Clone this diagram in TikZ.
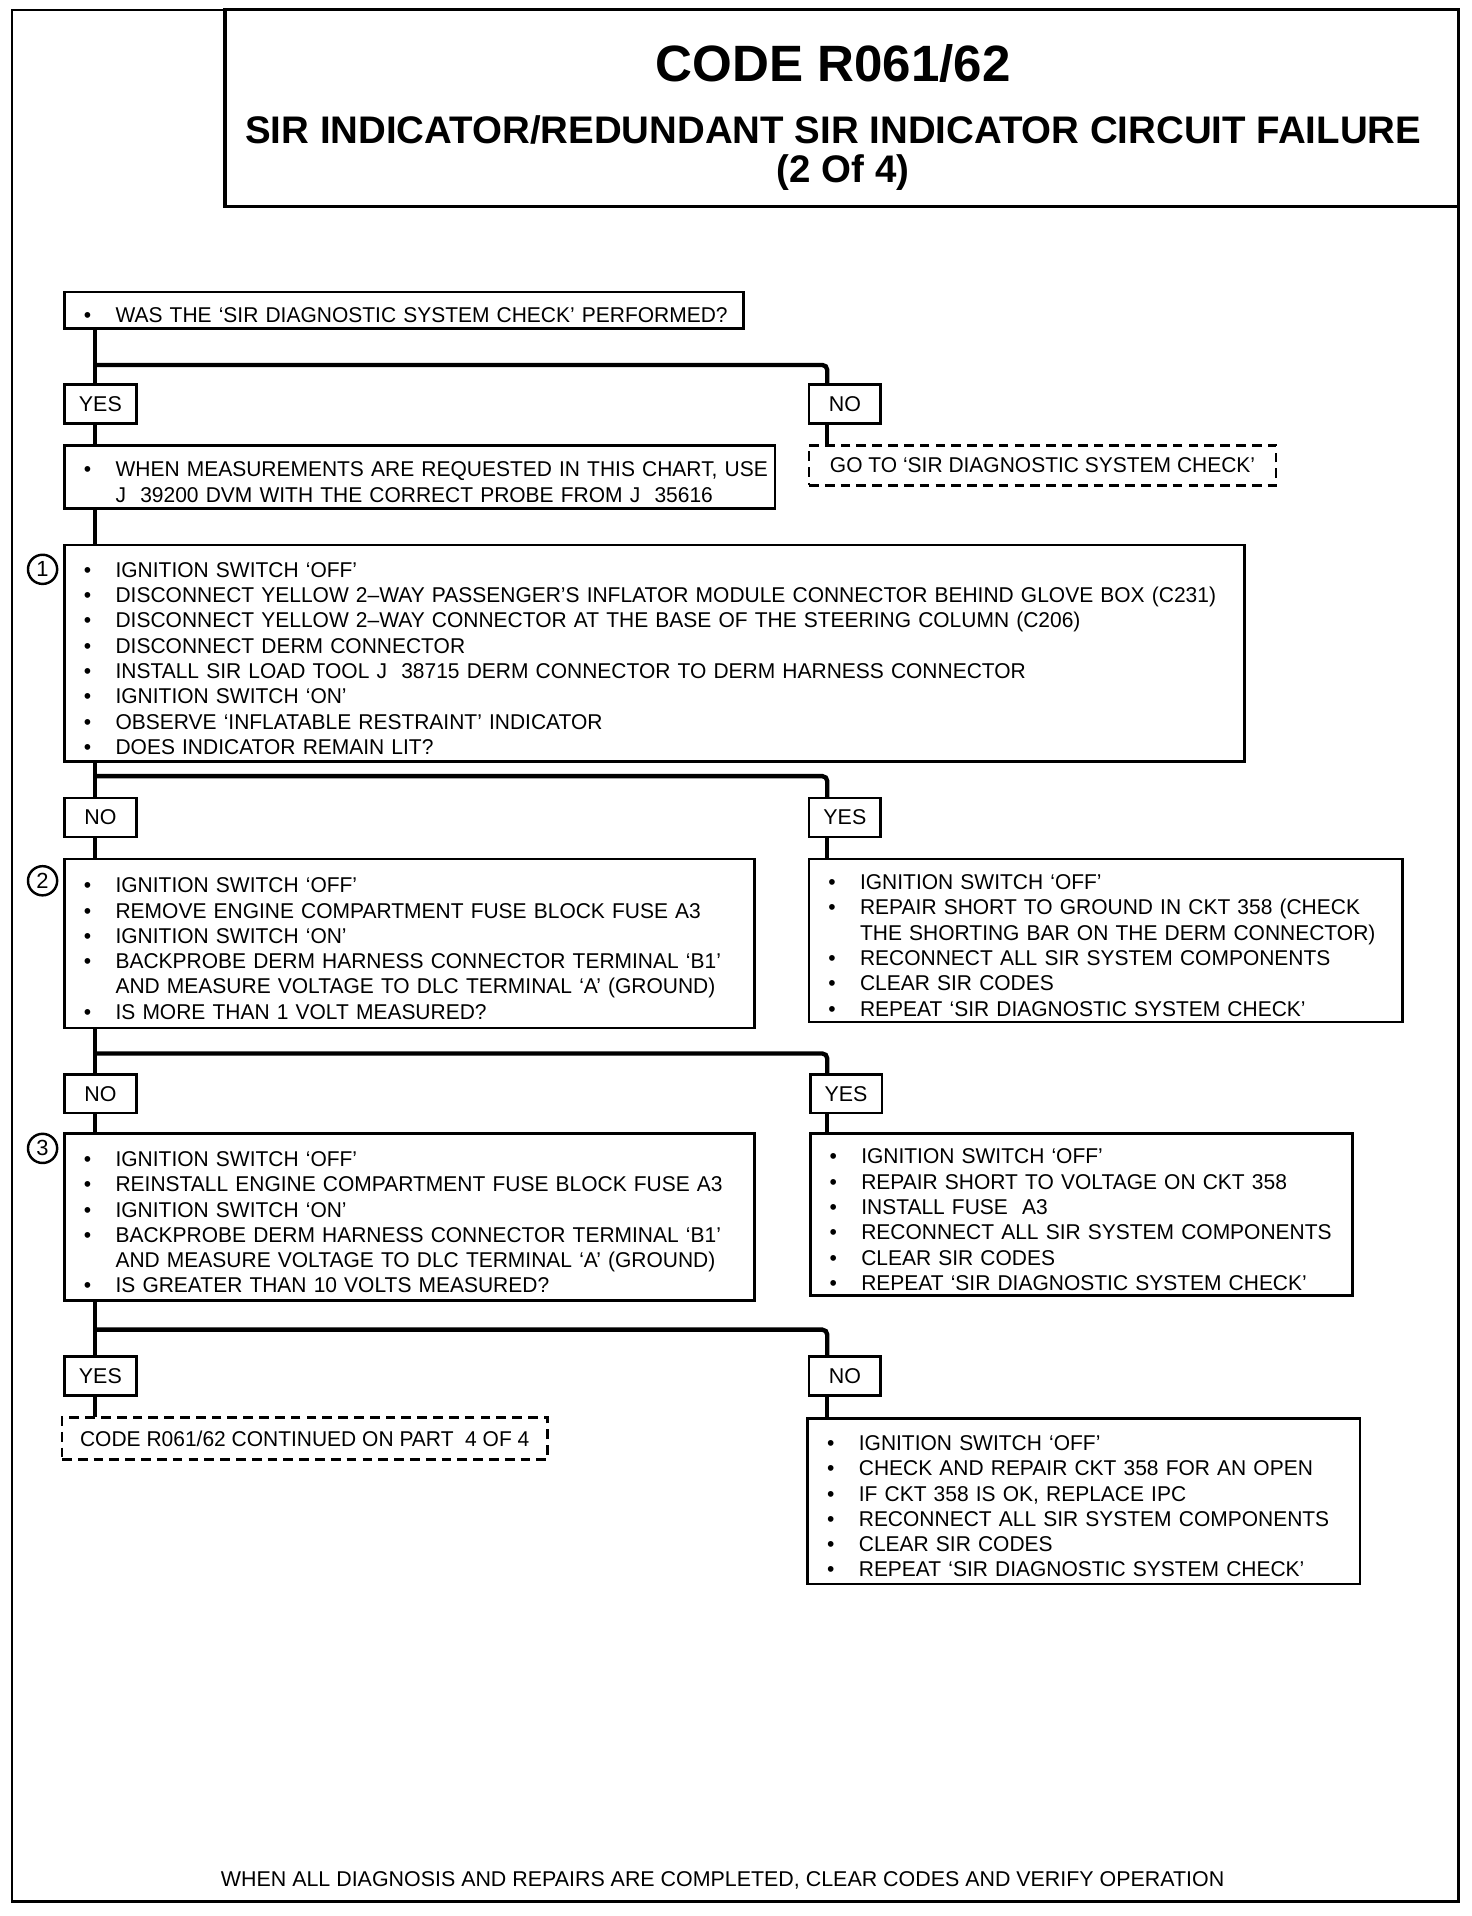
\documentclass[tikz,border=0pt]{standalone}
\usepackage{fontspec}
\setmainfont{Liberation Sans}
\newfontfamily\boxfont{Liberation Sans}[Ligatures=TeX, FakeStretch=0.98]
\usetikzlibrary{positioning}
\hyphenpenalty=10000
\exhyphenpenalty=10000
\newcommand{\bul}{\par\noindent\hangindent=17pt\hangafter=1\makebox[17pt][l]{\hspace{4pt}\textbullet}}
\begin{document}
\begin{tikzpicture}[x=0.5pt, y=-0.5pt,
        stepbox/.style={draw, line width=1.1pt, outer sep=0pt, inner xsep=4pt, inner ysep=0pt, align=left, font=\boxfont\fontsize{8.8}{10.4}\selectfont},
        dashbox/.style={draw, line width=1.1pt, outer sep=0pt, inner sep=0pt, dash pattern=on 4pt off 2.5pt, font=\boxfont\fontsize{8.8}{10.4}\selectfont},
        answer/.style={draw, line width=1.1pt, outer sep=0pt, minimum width=29.5pt, minimum height=16pt, inner sep=0pt, font=\fontsize{8.8}{10}\selectfont},
        link/.style={line width=1.8pt},
        stepnum/.style={circle, draw, line width=1pt, minimum size=12pt, inner sep=0pt, font=\fontsize{9}{10}\selectfont}]
            \useasboundingbox (0,0) rectangle (1210,1575);
            %Frame and title
            \draw[line width=1pt] (10,8) rectangle (1199,1563);
            \draw[line width=1.3pt] (185,8) rectangle (1199,170);
            \node[font=\bfseries\fontsize{21}{24}\selectfont] (title) at (685,52) {CODE R061/62};
            \node[font=\bfseries\fontsize{15.8}{18}\selectfont] (subtitle) at (685,107) {SIR INDICATOR/REDUNDANT SIR INDICATOR CIRCUIT FAILURE};
            \node[font=\bfseries\fontsize{15.8}{18}\selectfont] (part) at (693,142) {(2 Of 4)};
            \node[font=\fontsize{8.8}{10}\selectfont] (footer) at (594,1546) {WHEN ALL DIAGNOSIS AND REPAIRS ARE COMPLETED, CLEAR CODES AND VERIFY OPERATION};

            %Nodes
            \node[stepbox, anchor=north west, text width=271pt, minimum height=15pt](was_check) at (53,240) {\bul WAS THE `SIR DIAGNOSTIC SYSTEM CHECK' PERFORMED?};
            \node[answer, below right=23pt and 0pt of was_check.south west](yes_1){YES};
            \node[answer, right=276.5pt of yes_1](no_1){NO};
            \node[stepbox, below right=9pt and 0pt of yes_1.south west, text width=284pt, minimum height=26pt](measure) {\bul \mbox{WHEN MEASUREMENTS ARE REQUESTED IN THIS CHART, USE}\newline J~~39200 DVM WITH THE CORRECT PROBE FROM J~~35616\par};
            \node[dashbox, below right=9pt and 0pt of no_1.south west, minimum width=192pt, minimum height=16.5pt](goto_check) {GO TO `SIR DIAGNOSTIC SYSTEM CHECK'};

            \node[stepbox, below right=15pt and 0pt of measure.south west, text width=477pt, minimum height=89pt](step_1) {%
                \bul IGNITION SWITCH `OFF'
                \bul DISCONNECT YELLOW 2--WAY PASSENGER'S INFLATOR MODULE CONNECTOR BEHIND GLOVE BOX (C231)
                \bul DISCONNECT YELLOW 2--WAY CONNECTOR AT THE BASE OF THE STEERING COLUMN (C206)
                \bul DISCONNECT DERM CONNECTOR
                \bul INSTALL SIR LOAD TOOL J~~38715 DERM CONNECTOR TO DERM HARNESS CONNECTOR
                \bul IGNITION SWITCH `ON'
                \bul OBSERVE `INFLATABLE RESTRAINT' INDICATOR
                \bul DOES INDICATOR REMAIN LIT?\par};
            \node[stepnum](num_1) at (35,468){1};

            \node[answer, below right=15pt and 0pt of step_1.south west](no_2){NO};
            \node[answer, right=276.5pt of no_2](yes_2){YES};
            \node[stepbox, below right=9pt and 0pt of no_2.south west, text width=275.5pt, minimum height=69.5pt](step_2) {%
                \bul IGNITION SWITCH `OFF'
                \bul REMOVE ENGINE COMPARTMENT FUSE BLOCK FUSE A3
                \bul IGNITION SWITCH `ON'
                \bul BACKPROBE DERM HARNESS CONNECTOR TERMINAL `B1'\newline AND MEASURE VOLTAGE TO DLC TERMINAL `A' (GROUND)
                \bul IS MORE THAN 1 VOLT MEASURED?\par};
            \node[stepnum](num_2) at (35,724){2};
            \node[stepbox, below right=9pt and 0pt of yes_2.south west, text width=236pt, minimum height=67pt](short_ground) {%
                \bul IGNITION SWITCH `OFF'
                \bul REPAIR SHORT TO GROUND IN CKT 358 (CHECK\newline THE SHORTING BAR ON THE DERM CONNECTOR)
                \bul RECONNECT ALL SIR SYSTEM COMPONENTS
                \bul CLEAR SIR CODES
                \bul REPEAT `SIR DIAGNOSTIC SYSTEM CHECK'\par};

            \node[answer, below right=19pt and 0pt of step_2.south west](no_3){NO};
            \node[answer, right=277pt of no_3](yes_3){YES};
            \node[stepbox, below right=8.5pt and 0pt of no_3.south west, text width=275.5pt, minimum height=68.5pt](step_3) {%
                \bul IGNITION SWITCH `OFF'
                \bul REINSTALL ENGINE COMPARTMENT FUSE BLOCK FUSE A3
                \bul IGNITION SWITCH `ON'
                \bul BACKPROBE DERM HARNESS CONNECTOR TERMINAL `B1'\newline AND MEASURE VOLTAGE TO DLC TERMINAL `A' (GROUND)
                \bul IS GREATER THAN 10 VOLTS MEASURED?\par};
            \node[stepnum](num_3) at (35,944){3};
            \node[stepbox, below right=8.5pt and 0pt of yes_3.south west, text width=215pt, minimum height=66.5pt](short_voltage) {%
                \bul IGNITION SWITCH `OFF'
                \bul REPAIR SHORT TO VOLTAGE ON CKT 358
                \bul INSTALL FUSE~~A3
                \bul RECONNECT ALL SIR SYSTEM COMPONENTS
                \bul CLEAR SIR CODES
                \bul REPEAT `SIR DIAGNOSTIC SYSTEM CHECK'\par};

            \node[answer, below right=23pt and 0pt of step_3.south west](yes_4){YES};
            \node[answer, right=276.5pt of yes_4](no_4){NO};
            \node[dashbox, below right=9pt and -1pt of yes_4.south west, minimum width=199.5pt, minimum height=17.5pt](continued) {CODE R061/62 CONTINUED ON PART~~4 OF 4};
            \node[stepbox, below right=9.5pt and -0.5pt of no_4.south west, text width=219pt, minimum height=68pt](check_open) {%
                \bul IGNITION SWITCH `OFF'
                \bul CHECK AND REPAIR CKT 358 FOR AN OPEN
                \bul IF CKT 358 IS OK, REPLACE IPC
                \bul RECONNECT ALL SIR SYSTEM COMPONENTS
                \bul CLEAR SIR CODES
                \bul REPEAT `SIR DIAGNOSTIC SYSTEM CHECK'\par};

            %Lines
            \coordinate (spine) at (78,0);
            \coordinate (rspine) at (680,0);
            \coordinate (fork_1) at (78,300);
            \coordinate (fork_2) at (78,638);
            \coordinate (fork_3) at (78,866);
            \coordinate (fork_4) at (78,1093);
            \draw[link] (spine |- was_check.south) -- (spine |- yes_1.north);
            \draw[link, rounded corners=2pt] (fork_1) -| (rspine |- no_1.north);
            \draw[link] (spine |- yes_1.south) -- (spine |- measure.north);
            \draw[link] (rspine |- no_1.south) -- (rspine |- goto_check.north);
            \draw[link] (spine |- measure.south) -- (spine |- step_1.north);
            \draw[link] (spine |- step_1.south) -- (spine |- no_2.north);
            \draw[link, rounded corners=2pt] (fork_2) -| (rspine |- yes_2.north);
            \draw[link] (spine |- no_2.south) -- (spine |- step_2.north);
            \draw[link] (rspine |- yes_2.south) -- (rspine |- short_ground.north);
            \draw[link] (spine |- step_2.south) -- (spine |- no_3.north);
            \draw[link, rounded corners=2pt] (fork_3) -| (rspine |- yes_3.north);
            \draw[link] (spine |- no_3.south) -- (spine |- step_3.north);
            \draw[link] (rspine |- yes_3.south) -- (rspine |- short_voltage.north);
            \draw[link] (spine |- step_3.south) -- (spine |- yes_4.north);
            \draw[link, rounded corners=2pt] (fork_4) -| (rspine |- no_4.north);
            \draw[link] (spine |- yes_4.south) -- (spine |- continued.north);
            \draw[link] (rspine |- no_4.south) -- (rspine |- check_open.north);
        \end{tikzpicture}
\end{document}
